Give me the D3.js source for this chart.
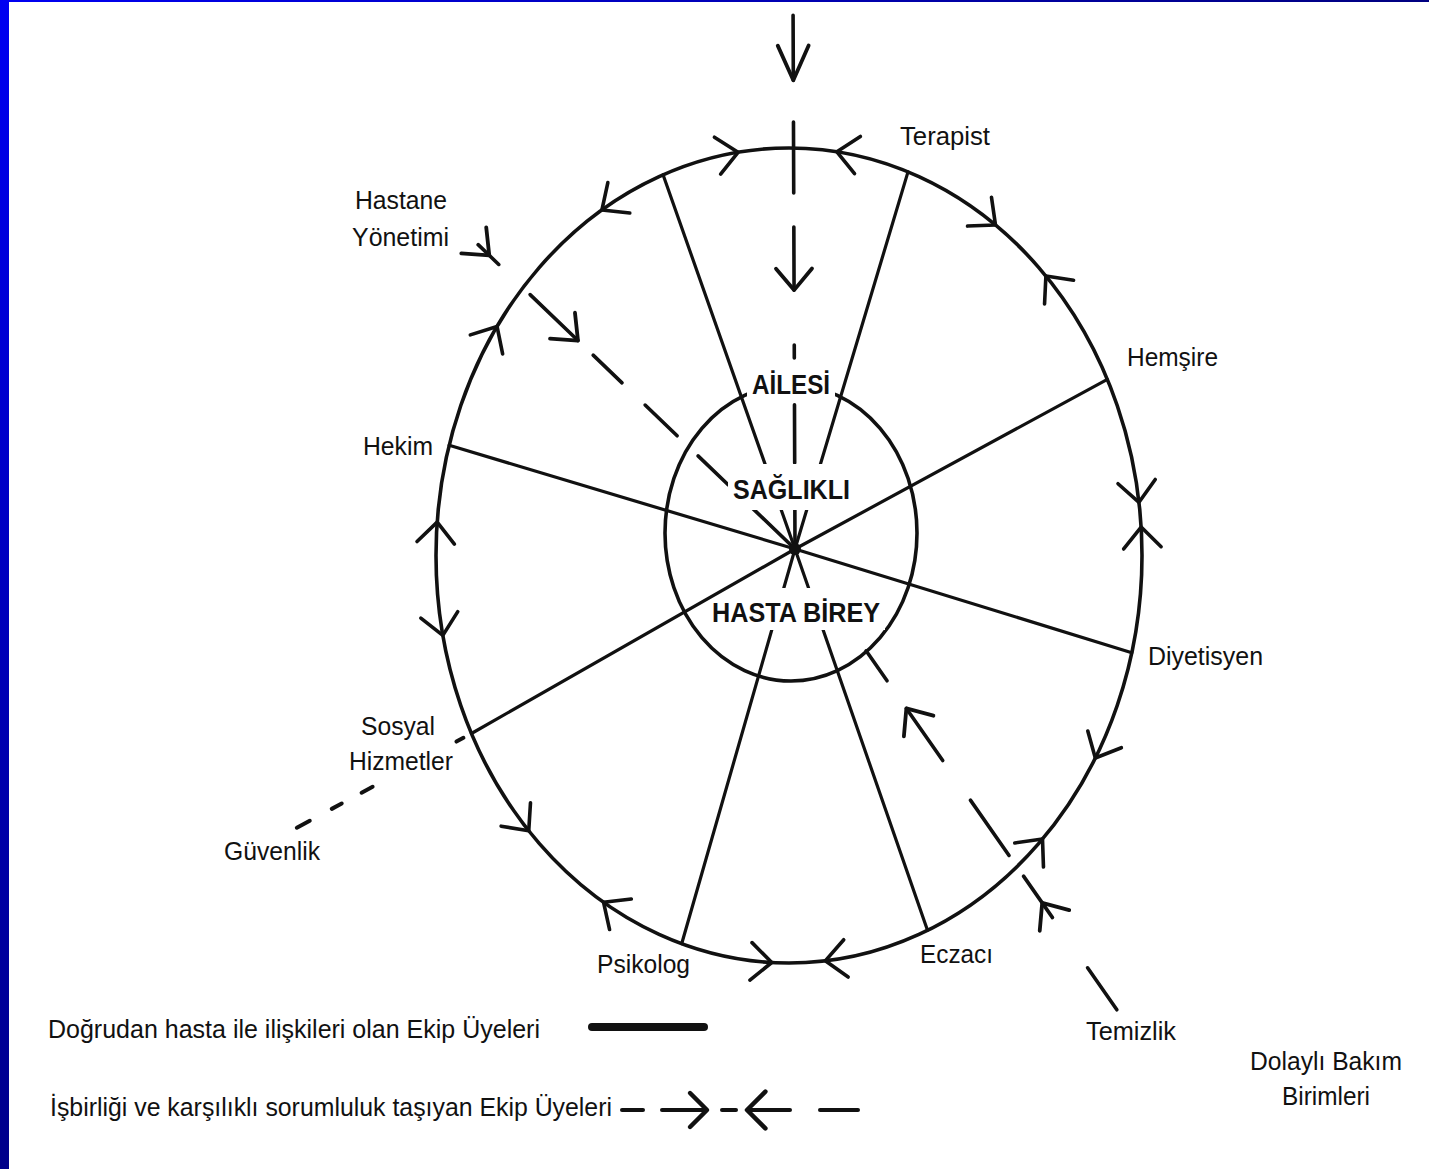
<!DOCTYPE html>
<html>
<head>
<meta charset="utf-8">
<script src="https://d3js.org/d3.v7.min.js"></script>
<style>
  body { margin: 0; background: #fff; }
  svg { display: block; }
  .lbl { font-family: "Liberation Sans Narrow", "Liberation Sans", Arial, sans-serif; font-size: 25px; fill: #111; }
  .core { font-family: "Liberation Sans", Arial, sans-serif; font-weight: bold; font-size: 27px; fill: #111; }
  .ink { fill: none; stroke: #111; stroke-linecap: round; stroke-linejoin: round; }
</style>
</head>
<body>
<script>
// team members that deal with the patient directly: [label, angle on outer ring (deg)]
var members = [
  ["Terapist", -70.3], ["Hemşire", -25.6], ["Diyetisyen", 13.8], ["Eczacı", 66.9],
  ["Psikolog", 107.7], ["Sosyal Hizmetler", 154.1], ["Hekim", -164.3], ["Ailesi", -110.9]
];
// arrows on the outer ring: [angle (deg), direction along ring]
var ringArrows = [
  [-98.3, 1], [-82.2, -1], [-122, -1], [-145.8, 1], [-54.2, 1], [-43.3, -1],
  [-7.5, 1], [-4, -1], [184.7, 1], [168.7, -1], [29.8, 1], [44.1, -1],
  [137.5, -1], [121.7, 1], [92.8, -1], [84.1, 1]
];
// indirect care units: start on ring (angle, scale), dashes and arrow tips as fractions toward target
var spokeNames = ["top", "Hastane Yönetimi", "Temizlik", "Güvenlik"];
var spokeStart = [[-89.5, 1.326], [-139.1, 1.165], [50.2, 1.451], [154.4, 1.546]];
var spokeTarget = ["hub", "hub", "hub", "Sosyal Hizmetler"];
var spokeDashes = [
  [[0, 0.122], [0.2, 0.333], [0.397, 0.515], [0.618, 0.642], [0.73, 0.839], [0.927, 1]],
  [[0, 0.065], [0.164, 0.315], [0.363, 0.454], [0.527, 0.628], [0.694, 0.789], [0.868, 1]],
  [[0, 0.091], [0.2, 0.29], [0.335, 0.455], [0.541, 0.654], [0.714, 0.779]],
  [[0, 0.074], [0.2, 0.257], [0.371, 0.434], [0.914, 0.954]]
];
var spokeArrows = [[0.122, 0.515], [0.035, 0.315], [0.232, 0.654], []];
var centreWords = ["AİLESİ", "SAĞLIKLI", "HASTA BİREY"];
var legendTexts = ["Doğrudan hasta ile ilişkileri olan Ekip Üyeleri",
                   "İşbirliği ve karşılıklı sorumluluk taşıyan Ekip Üyeleri"];
var sideTexts = ["Hastane", "Yönetimi", "Güvenlik", "Temizlik", "Dolaylı Bakım", "Birimleri"];

// layout: [x, baseline, width]
var labelPos = {
  "Terapist": [900, 145, 90], "Hemşire": [1127, 366, 91], "Diyetisyen": [1148, 665, 115],
  "Eczacı": [920, 963, 73], "Psikolog": [597, 973, 93], "Hekim": [363, 455, 70],
  "Sosyal": [361, 735, 74], "Hizmetler": [349, 770, 104],
  "Hastane": [355, 209, 92], "Yönetimi": [352, 246, 97], "Güvenlik": [224, 860, 96],
  "Temizlik": [1086, 1040, 90], "Dolaylı Bakım": [1250, 1070, 152], "Birimleri": [1282, 1105, 88]
};
// centre words: [x, baseline, width] and white patch [top offset, height]
var corePos = [[752, 394, 78], [733, 499, 117], [712, 622, 168]];
var corePatch = [[-28, 35], [-35, 46], [-34, 42]];

var W = 1429, H = 1169;
var ring = {cx: 789, cy: 555.5, rx: 353, ry: 407.5};
var inner = {cx: 791, cy: 533, rx: 126, ry: 148};
var hub = [795, 549];

var sx = d3.scaleLinear().domain([-1, 1]).range([ring.cx - ring.rx, ring.cx + ring.rx]);
var sy = d3.scaleLinear().domain([-1, 1]).range([ring.cy - ring.ry, ring.cy + ring.ry]);
var rad = function(a) { return a * Math.PI / 180; };
function onRing(t, k) {
  k = k || 1;
  return [sx(k * Math.cos(rad(t))), sy(k * Math.sin(rad(t)))];
}
function lerp(a, b, f) { return [a[0] + (b[0] - a[0]) * f, a[1] + (b[1] - a[1]) * f]; }

var svg = d3.select("body").append("svg").attr("width", W).attr("height", H);

// blue frame
var defs = svg.append("defs");
var gv = defs.append("linearGradient").attr("id", "gv").attr("x1", 0).attr("y1", 0).attr("x2", 0).attr("y2", 1);
gv.append("stop").attr("offset", 0).attr("stop-color", "#0000f2");
gv.append("stop").attr("offset", 1).attr("stop-color", "#00008a");
var gh = defs.append("linearGradient").attr("id", "gh").attr("x1", 0).attr("y1", 0).attr("x2", 1).attr("y2", 0);
gh.append("stop").attr("offset", 0).attr("stop-color", "#0000f2");
gh.append("stop").attr("offset", 1).attr("stop-color", "#000080");
svg.append("rect").attr("width", W).attr("height", H).attr("fill", "#fff");
svg.append("rect").attr("x", 0).attr("y", 0).attr("width", W).attr("height", 2).attr("fill", "url(#gh)");
svg.append("rect").attr("x", 0).attr("y", 0).attr("width", 9).attr("height", H).attr("fill", "url(#gv)");

var g = svg.append("g");

function chevron(sel, tip, ux, uy, len, half, w) {
  var a = rad(half), bx = -ux, by = -uy;
  var p1 = [tip[0] + len * (bx * Math.cos(a) - by * Math.sin(a)), tip[1] + len * (bx * Math.sin(a) + by * Math.cos(a))];
  var p2 = [tip[0] + len * (bx * Math.cos(-a) - by * Math.sin(-a)), tip[1] + len * (bx * Math.sin(-a) + by * Math.cos(-a))];
  sel.append("path").attr("class", "ink").attr("stroke-width", w || 3.5)
    .attr("d", d3.line()([p1, tip, p2]));
}

// rings
g.append("ellipse").attr("class", "ink").attr("stroke-width", 3.6)
  .attr("cx", sx(0)).attr("cy", sy(0)).attr("rx", sx(1) - sx(0)).attr("ry", sy(1) - sy(0));
g.append("ellipse").attr("class", "ink").attr("stroke-width", 3.6)
  .attr("cx", inner.cx).attr("cy", inner.cy).attr("rx", inner.rx).attr("ry", inner.ry);

// ring arrows
ringArrows.forEach(function(d) {
  var t = rad(d[0]);
  var p = onRing(d[0]);
  var dx = -ring.rx * Math.sin(t) * d[1], dy = ring.ry * Math.cos(t) * d[1];
  var n = Math.hypot(dx, dy);
  chevron(g, p, dx / n, dy / n, 28, 42, 3.6);
});

var memberPt = {};
members.forEach(function(m) { memberPt[m[0]] = onRing(m[1]); });
var steep = ["Terapist", "Ailesi", "Eczacı", "Psikolog"];
var flat = ["Hekim", "Diyetisyen", "Hemşire", "Sosyal Hizmetler"];

// steep solid spokes (broken by centre words)
steep.forEach(function(n) {
  g.append("path").attr("class", "ink").attr("stroke-width", 3.2).attr("d", d3.line()([memberPt[n], hub]));
});

// dashed spokes of indirect units
spokeNames.forEach(function(n, i) {
  var s = onRing(spokeStart[i][0], spokeStart[i][1]);
  var e = spokeTarget[i] === "hub" ? hub : memberPt[spokeTarget[i]];
  var len = Math.hypot(e[0] - s[0], e[1] - s[1]);
  var ux = (e[0] - s[0]) / len, uy = (e[1] - s[1]) / len;
  var w = n === "Güvenlik" ? 4 : 3.6;
  spokeDashes[i].forEach(function(d) {
    g.append("path").attr("class", "ink").attr("stroke-width", w)
      .attr("d", d3.line()([lerp(s, e, d[0]), lerp(s, e, d[1])]));
  });
  spokeArrows[i].forEach(function(f) {
    var big = n === "top" && f < 0.2;
    chevron(g, lerp(s, e, f), ux, uy, big ? 38 : 28, big ? 24 : 40, 3.8);
  });
});

// centre words on white patches
centreWords.forEach(function(w, i) {
  var p = corePos[i], q = corePatch[i];
  g.append("rect").attr("x", p[0] - 5).attr("y", p[1] + q[0])
    .attr("width", p[2] + 10).attr("height", q[1]).attr("fill", "#fff");
  g.append("text").attr("class", "core").attr("x", p[0]).attr("y", p[1])
    .attr("textLength", p[2]).attr("lengthAdjust", "spacingAndGlyphs").text(w);
});

// flat solid spokes across the centre
flat.forEach(function(n) {
  g.append("path").attr("class", "ink").attr("stroke-width", 3.2).attr("d", d3.line()([memberPt[n], hub]));
});
g.append("circle").attr("cx", hub[0]).attr("cy", hub[1]).attr("r", 6).attr("fill", "#111");

// member labels
members.forEach(function(m) {
  var parts = m[0] === "Sosyal Hizmetler" ? ["Sosyal", "Hizmetler"] : [m[0]];
  parts.forEach(function(t) {
    var p = labelPos[t];
    if (!p) return;
    g.append("text").attr("class", "lbl").attr("x", p[0]).attr("y", p[1])
      .attr("textLength", p[2]).attr("lengthAdjust", "spacingAndGlyphs").text(t);
  });
});
sideTexts.forEach(function(t) {
  var p = labelPos[t];
  g.append("text").attr("class", "lbl").attr("x", p[0]).attr("y", p[1])
    .attr("textLength", p[2]).attr("lengthAdjust", "spacingAndGlyphs").text(t);
});

// legend
var lg = svg.append("g");
lg.append("text").attr("class", "lbl").attr("x", 48).attr("y", 1038)
  .attr("textLength", 492).attr("lengthAdjust", "spacingAndGlyphs").text(legendTexts[0]);
lg.append("text").attr("class", "lbl").attr("x", 50).attr("y", 1116)
  .attr("textLength", 562).attr("lengthAdjust", "spacingAndGlyphs").text(legendTexts[1]);
lg.append("path").attr("class", "ink").attr("stroke-width", 8).attr("d", "M592,1027L704,1027");
var ly = 1110;
[[622, 643], [662, 706], [722, 736], [750, 790], [820, 858]].forEach(function(d) {
  lg.append("path").attr("class", "ink").attr("stroke-width", 4).attr("d", d3.line()([[d[0], ly], [d[1], ly]]));
});
chevron(lg, [707, ly], 1, 0, 24, 45, 4.5);
chevron(lg, [747, ly], -1, 0, 26, 45, 4.5);
</script>
</body>
</html>
